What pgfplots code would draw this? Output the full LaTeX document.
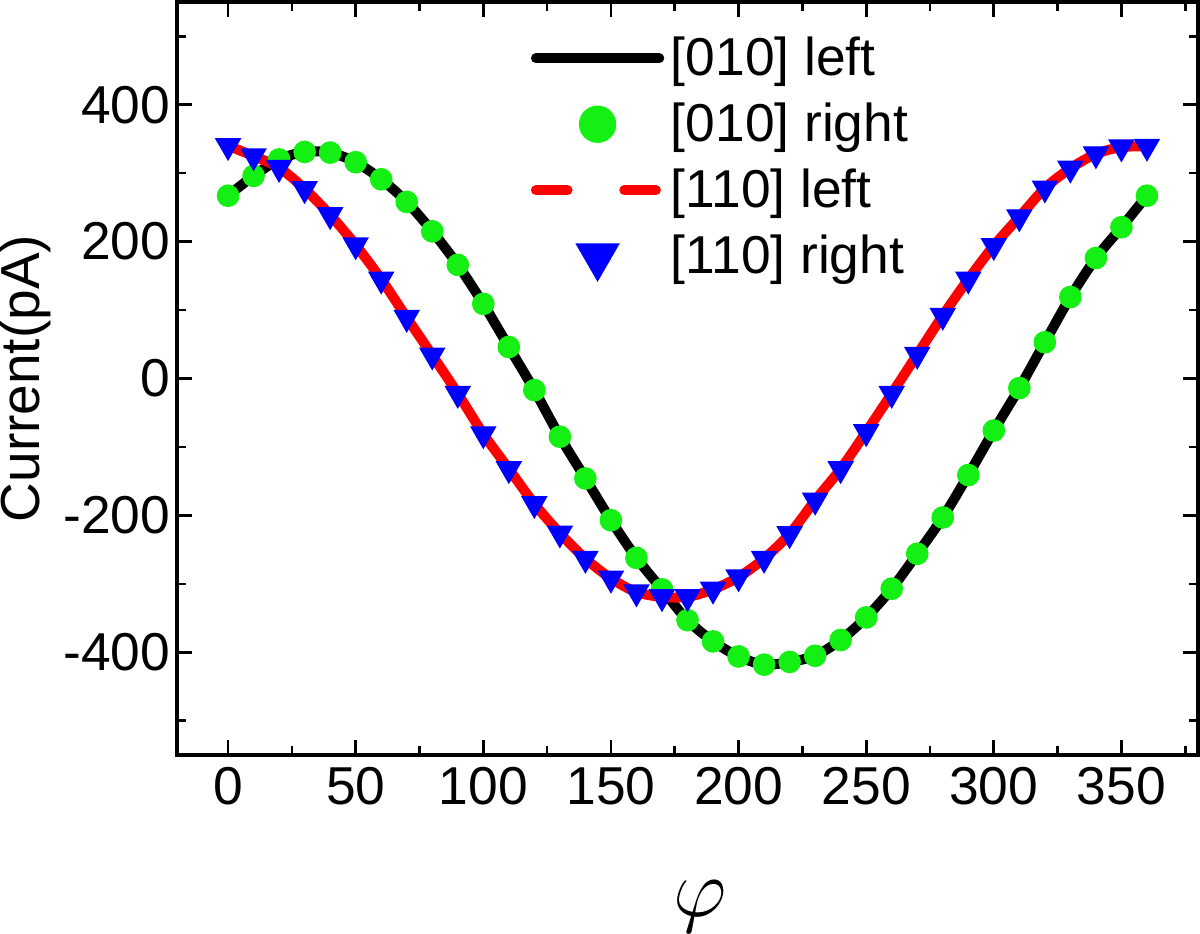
\documentclass[border=0pt]{standalone}
\usepackage{fontspec}
\setmainfont{Liberation Sans}
\usepackage{pgfplots}
\usepackage{pgfplotstable}
\pgfplotsset{compat=1.18}
\definecolor{mygreen}{RGB}{20,240,20}
\definecolor{myblue}{RGB}{0,0,255}
\definecolor{myred}{RGB}{255,0,0}

\pgfplotstableread{
phi I
0 267
10 296
20 320
30 331
40 330
50 316
60 291
70 258
80 215
90 166
100 109
110 46
120 -17
130 -85
140 -146
150 -207
160 -262
170 -308
180 -353
190 -384
200 -406
210 -418
220 -414
230 -405
240 -382
250 -349
260 -307
270 -256
280 -203
290 -141
300 -76
310 -14
320 53
330 119
340 176
350 221
360 267
}\dataA

\pgfplotstableread{
phi I
0 340
10 325
20 308
30 277
40 239
50 195
60 145
70 89
80 34
90 -22
100 -81
110 -132
120 -183
130 -226
140 -263
150 -292
160 -312
170 -319
180 -319
190 -308
200 -290
210 -263
220 -227
230 -178
240 -132
250 -78
260 -22
270 35
280 92
290 145
300 194
310 236
320 278
330 307
340 328
350 338
360 339
}\dataB

\begin{document}
\begin{tikzpicture}
\begin{axis}[
  name=ax,
  scale only axis,
  width=306.3pt, height=225.9pt,
  xmin=-20, xmax=380, ymin=-550, ymax=550,
  xtick={0,50,...,350}, ytick={-400,-200,...,400},
  minor xtick={25,75,...,375}, minor ytick={-500,-300,...,500},
  tick align=inside,
  axis line style={line width=1pt},
  major tick length=4.5pt, minor tick length=2.7pt,
  every tick/.style={black, line width=0.8pt},
  ticklabel style={font=\fontsize{16}{19}\selectfont},
  /pgf/number format/assume math mode=true,
  yticklabel style={xshift=1.5pt},
  xlabel={$\varphi$},
  every axis x label/.style={at={(axis description cs:0.512,-0.2138)}, anchor=base, font=\fontsize{26}{30}\selectfont},
  ylabel={Current(pA)},
  every axis y label/.style={at={(axis description cs:-0.1489,0.5)}, rotate=90, anchor=center, font=\fontsize{16.5}{19}\selectfont},
  legend style={draw=none, fill=none, inner xsep=0pt, inner ysep=0pt,
    at={(axis description cs:0.346,0.964)}, anchor=north west,
    font=\fontsize{16}{19}\selectfont, row sep=2.7pt},
  legend cell align=left,
  legend image code/.code={\draw[mark repeat=2,mark phase=2,#1] plot coordinates {(0pt,0pt) (18.5pt,0pt) (37pt,0pt)};},
]
\addplot[black, line width=3pt, line join=round, line cap=round, smooth, tension=0.5] table[x=phi,y=I] {\dataA};
\addlegendentry{[010] left}
\addplot[only marks, mark=*, mark size=3.2pt, mark options={draw=none, fill=mygreen}, color=mygreen,
  legend image post style={mark size=5.4pt}] table[x=phi,y=I] {\dataA};
\addlegendentry{[010] right}
\addplot[myred, line width=3pt, line join=round, line cap=round, smooth, tension=0.5,
  legend image code/.code={\draw[myred, line width=3pt, line cap=round, dash pattern=on 9.5pt off 17pt] (0pt,0pt) -- (37pt,0pt);}] table[x=phi,y=I] {\dataB};
\addlegendentry{[110] left}
\addplot[only marks, mark=triangle*, mark size=4.2pt, mark options={rotate=180, draw=none, fill=myblue}, color=myblue,
  legend image post style={mark size=7.3pt}] table[x=phi,y=I] {\dataB};
\addlegendentry{[110] right}
\end{axis}
\pgfresetboundingbox
\path ([shift={(-53.1pt,-53.4pt)}]ax.south west) rectangle ([shift={(0.6pt,0.6pt)}]ax.north east);
\end{tikzpicture}
\end{document}
